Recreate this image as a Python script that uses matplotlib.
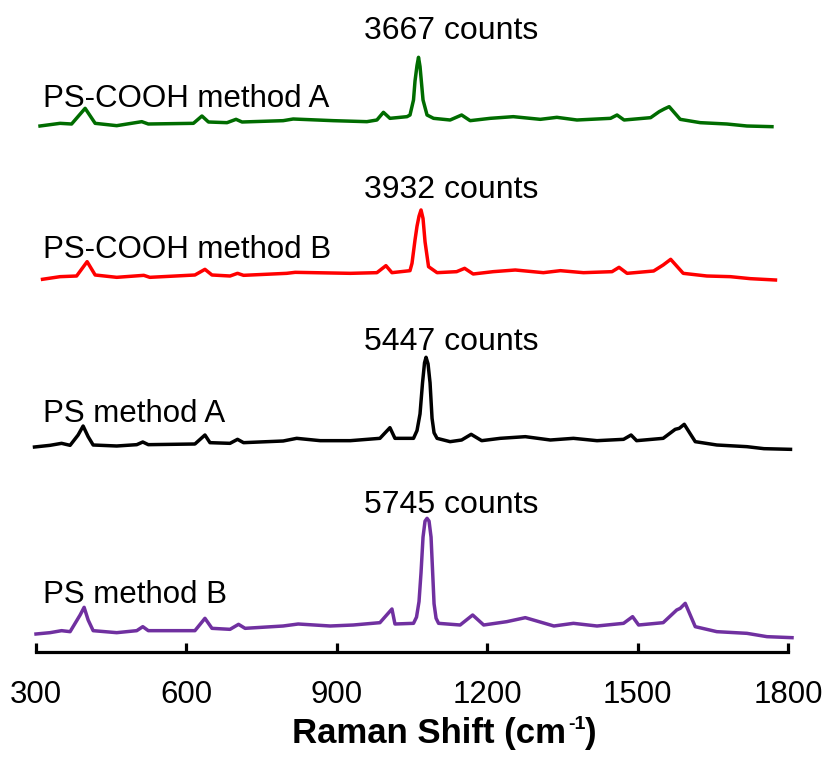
import numpy as np
import matplotlib
matplotlib.use("Agg")
import matplotlib.pyplot as plt

plt.rcParams.update({
    'font.family': ['Liberation Sans', 'DejaVu Sans'],
})

# Raman spectra (shift in cm-1, intensity in counts)
shift_cooh_a = [308, 348, 371, 398, 418, 461, 511, 524, 614, 631, 644, 681, 699, 711, 793, 813,
                893, 960, 980, 993, 1006, 1040, 1046, 1053, 1056, 1060, 1063, 1066, 1069, 1072,
                1080, 1093, 1126, 1149, 1166, 1206, 1252, 1306, 1339, 1379, 1446, 1459, 1473,
                1526, 1543, 1553, 1563, 1585, 1625, 1678, 1718, 1768]
counts_cooh_a = [575, 695, 665, 1370, 695, 590, 770, 665, 695, 1025, 755, 725, 875, 755, 815, 890,
                 815, 770, 845, 1190, 920, 995, 1070, 1745, 2600, 3300, 3667, 3250, 2500, 1745,
                 1070, 920, 845, 1070, 815, 920, 995, 875, 965, 845, 920, 1070, 845,
                 950, 1220, 1340, 1445, 875, 725, 665, 575, 545]

shift_cooh_b = [313, 348, 381, 402, 418, 461, 515, 527, 617, 637, 651, 687, 702, 714, 800, 817,
                927, 980, 998, 1010, 1046, 1050, 1056, 1060, 1064, 1068, 1072, 1076, 1083, 1100,
                1139, 1155, 1172, 1212, 1256, 1312, 1346, 1392, 1449, 1463, 1479, 1532, 1551,
                1566, 1591, 1638, 1685, 1725, 1775]
counts_cooh_b = [812, 930, 960, 1605, 1005, 900, 990, 900, 1005, 1260, 1005, 960, 1080, 990, 1080, 1125,
                 1080, 1110, 1425, 1110, 1200, 1530, 2580, 3200, 3650, 3932, 3550, 2500, 1380, 1110,
                 1155, 1305, 1050, 1155, 1230, 1110, 1200, 1110, 1155, 1350, 1080, 1185, 1455,
                 1710, 1080, 960, 930, 840, 780]

shift_ps_a = [297, 328, 351, 368, 384, 394, 404, 414, 461, 501, 513, 524, 617, 637, 647, 687, 702,
              714, 793, 820, 867, 927, 986, 1006, 1016, 1053, 1060, 1066, 1071, 1075, 1078, 1082,
              1086, 1090, 1094, 1100, 1126, 1149, 1168, 1189, 1226, 1276, 1326, 1372, 1419, 1472,
              1487, 1498, 1551, 1575, 1583, 1593, 1615, 1658, 1718, 1752, 1805]
counts_ps_a = [1410, 1485, 1575, 1485, 1950, 2355, 1875, 1500, 1455, 1515, 1635, 1515, 1545, 1950, 1605, 1575, 1755,
               1605, 1680, 1800, 1695, 1695, 1800, 2280, 1800, 1800, 2150, 2900, 4300, 5200, 5447, 5150,
               4300, 2700, 2050, 1800, 1650, 1725, 1980, 1695, 1800, 1875, 1725, 1800, 1695, 1755,
               1950, 1695, 1800, 2205, 2250, 2430, 1650, 1500, 1425, 1335, 1305]

shift_ps_b = [300, 328, 351, 368, 388, 396, 404, 414, 461, 501, 513, 524, 617, 637, 651, 687, 704,
              717, 793, 823, 887, 933, 986, 1010, 1016, 1053, 1059, 1064, 1068, 1072, 1076, 1080,
              1084, 1088, 1091, 1094, 1098, 1103, 1146, 1171, 1193, 1239, 1276, 1333, 1372, 1419,
              1472, 1490, 1502, 1551, 1578, 1585, 1595, 1615, 1658, 1718, 1758, 1808]
counts_ps_b = [540, 600, 690, 645, 1395, 1740, 1170, 690, 600, 690, 870, 690, 690, 1245, 795, 750, 975,
               795, 900, 990, 900, 945, 1050, 1665, 990, 1020, 1300, 2000, 3300, 4900, 5620, 5745,
               5620, 4900, 3400, 1900, 1250, 1020, 945, 1395, 945, 1095, 1275, 900, 1020, 900,
               1020, 1320, 945, 1050, 1620, 1695, 1920, 870, 645, 570, 420, 375]

names = ["PS-COOH method A", "PS-COOH method B", "PS method A", "PS method B"]
shifts = [shift_cooh_a, shift_cooh_b, shift_ps_a, shift_ps_b]
counts = [counts_cooh_a, counts_cooh_b, counts_ps_a, counts_ps_b]
colors = ['#006C00', '#FF0000', '#000000', '#7030A0']

# vertical stacking of the traces
offsets = [23095, 15960, 7815, 270]
name_y = [24510, 17715, 10365, 2220]
count_gap = [810, 540, 315, 250]

fig = plt.figure(figsize=(8.26, 7.57), dpi=100)
ax = fig.add_axes([36/826, 105/757, 752/826, 652/757])

for i in range(len(names)):
    x = np.array(shifts[i])
    y = np.array(counts[i]) + offsets[i]
    ax.plot(x, y, color=colors[i], lw=2.5, solid_joinstyle='round', clip_on=False)
    k = int(np.argmax(counts[i]))
    ax.text(1129, y[k] + count_gap[i], "{} counts".format(counts[i][k]),
            ha='center', va='baseline', fontsize=23)
    ax.text(314, name_y[i], names[i], ha='left', va='baseline', fontsize=22.5)

ax.set_xlim(300, 1800)
ax.set_ylim(0, 29340)
ax.set_xticks([300, 600, 900, 1200, 1500, 1800])
ax.set_yticks([])
for s in ['left', 'top', 'right']:
    ax.spines[s].set_visible(False)
ax.spines['bottom'].set_linewidth(2.3)
ax.tick_params(axis='x', direction='in', length=6.5, width=2.3, pad=20, labelsize=22.5)

# axis title, with a small raised "-1"
fig.text(566/826, 14/757, 'Raman Shift (cm', ha='right', va='baseline',
         fontsize=25, fontweight='bold')
fig.text(568/826, 28/757, '-1', ha='left', va='baseline', fontsize=14, fontweight='bold')
fig.text(585/826, 14/757, ')', ha='left', va='baseline', fontsize=25, fontweight='bold')

fig.savefig('out.png', dpi=100)
